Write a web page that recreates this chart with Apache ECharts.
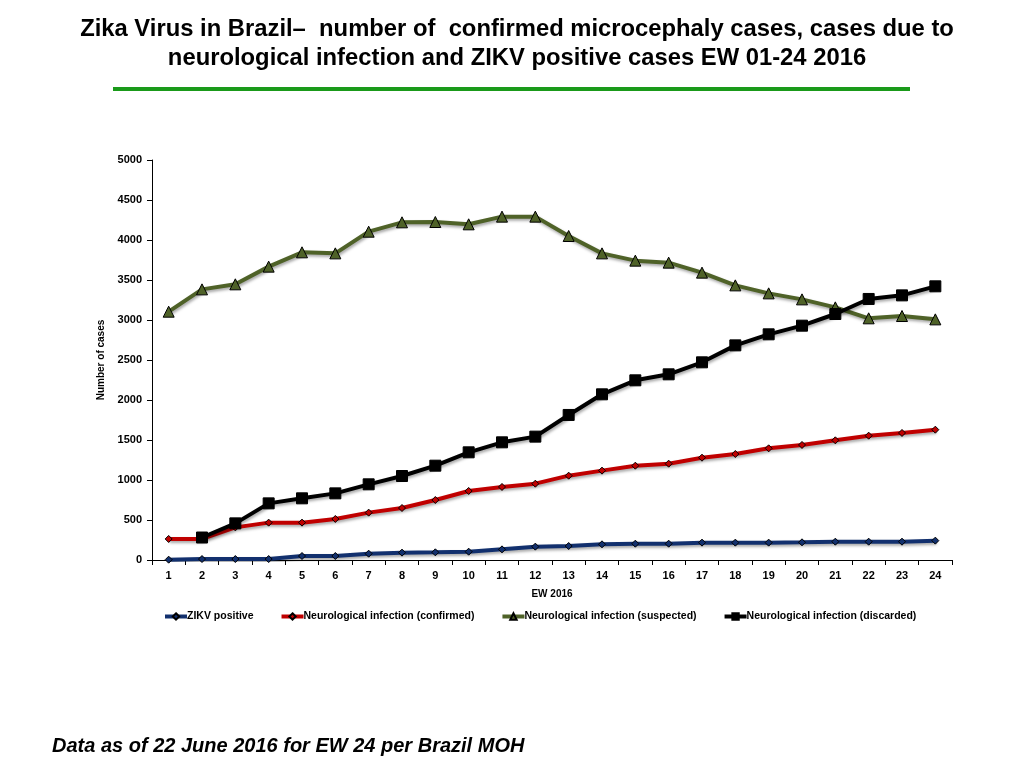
<!DOCTYPE html>
<html>
<head>
<meta charset="utf-8">
<script src="https://cdn.jsdelivr.net/npm/echarts@6/dist/echarts.min.js"></script>
<style>
html,body{margin:0;padding:0;background:#fff;}
#chart{width:1024px;height:768px;}
</style>
</head>
<body>
<div id="chart"></div>
<script>
var weeks = ['1','2','3','4','5','6','7','8','9','10','11','12','13','14','15','16','17','18','19','20','21','22','23','24'];
var zikvPositive = [4,12,12,12,50,50,79,92,96,104,133,167,175,196,204,204,217,217,217,221,229,229,229,242];
var neuroConfirmed = [263,263,408,467,467,513,592,650,750,863,913,954,1054,1117,1179,1204,1279,1325,1396,1438,1496,1554,1588,1629];
var neuroSuspected = [3104,3383,3446,3667,3846,3833,4104,4221,4225,4196,4292,4292,4050,3833,3742,3717,3592,3433,3333,3258,3158,3021,3050,3008];
var neuroDiscarded = ['-',281,458,708,771,833,946,1050,1179,1346,1471,1542,1813,2071,2246,2321,2471,2683,2821,2929,3075,3263,3308,3421];
var yTicks = [0,500,1000,1500,2000,2500,3000,3500,4000,4500,5000];

var smallFont = '"Liberation Sans Narrow", "Liberation Sans", sans-serif';
var shadow = {shadowBlur:3, shadowColor:'rgba(0,0,0,0.35)', shadowOffsetX:1, shadowOffsetY:2};

function mkSeries(name, data, color, symbol, size, width, borderColor){
  return {
    name:name, type:'line', data:data,
    symbol:symbol, symbolSize:size,
    lineStyle:Object.assign({color:color, width:width}, shadow),
    itemStyle:{color:color, borderColor:borderColor, borderWidth:1},
    emphasis:{disabled:true},
    z: 3
  };
}

var chart = echarts.init(document.getElementById('chart'));
chart.setOption({
  animation:false,
  backgroundColor:'#fff',
  title:[
    {
      text:'Zika Virus in Brazil\u2013  number of  confirmed microcephaly cases, cases due to\nneurological infection and ZIKV positive cases EW 01-24 2016',
      left:512, top:10, textAlign:'center',
      textStyle:{fontFamily:smallFont, fontWeight:'bold', fontSize:23.8, lineHeight:29, color:'#000'}
    },
    {
      text:'Data as of 22 June 2016 for EW 24 per Brazil MOH',
      left:47, top:731,
      textStyle:{fontFamily:'"Liberation Sans", Arial, sans-serif', fontStyle:'italic', fontWeight:'bold', fontSize:20, color:'#000'}
    }
  ],
  graphic:[
    {type:'line', shape:{x1:113, y1:89, x2:910, y2:89}, style:{stroke:'#1a9a1a', lineWidth:4}}
  ],
  grid:{left:152, right:72, top:160, bottom:208, containLabel:false},
  legend:{
    top:606, left:158,
    itemWidth:22, itemHeight:8, itemGap:26,
    lineStyle:{width:4},
    textStyle:{fontFamily:smallFont, fontWeight:'bold', fontSize:10.5, color:'#000', padding:[0,0,0,-5]},
    data:['ZIKV positive','Neurological infection (confirmed)','Neurological infection (suspected)','Neurological infection (discarded)']
  },
  xAxis:{
    type:'category', data:weeks, boundaryGap:true,
    name:'EW 2016', nameLocation:'middle', nameGap:29,
    nameTextStyle:{fontFamily:smallFont, fontWeight:'bold', fontSize:10, color:'#000'},
    axisLine:{lineStyle:{color:'#000', width:1}},
    axisTick:{show:true, alignWithLabel:false, length:5, inside:false, lineStyle:{color:'#000'}},
    axisLabel:{fontFamily:smallFont, fontWeight:'bold', fontSize:11, color:'#000', margin:10}
  },
  yAxis:{
    type:'value', min:yTicks[0], max:yTicks[yTicks.length-1], interval:500,
    name:'Number of cases', nameLocation:'middle', nameGap:32,
    nameTextStyle:{fontFamily:smallFont, fontWeight:'bold', fontSize:10, color:'#000'},
    axisLine:{show:true, lineStyle:{color:'#000', width:1}},
    axisTick:{show:true, length:5, lineStyle:{color:'#000'}},
    splitLine:{show:false},
    axisLabel:{fontFamily:smallFont, fontWeight:'bold', fontSize:11, color:'#000', margin:10, formatter:function(v){return String(v);}}
  },
  series:[
    mkSeries('ZIKV positive', zikvPositive, '#12306e', 'diamond', 7, 4, '#000'),
    mkSeries('Neurological infection (confirmed)', neuroConfirmed, '#c00000', 'diamond', 7, 4, '#000'),
    mkSeries('Neurological infection (suspected)', neuroSuspected, '#4f6228', 'triangle', 11, 4, '#000'),
    mkSeries('Neurological infection (discarded)', neuroDiscarded, '#000000', 'rect', 11, 4, '#000')
  ]
});
</script>
</body>
</html>
